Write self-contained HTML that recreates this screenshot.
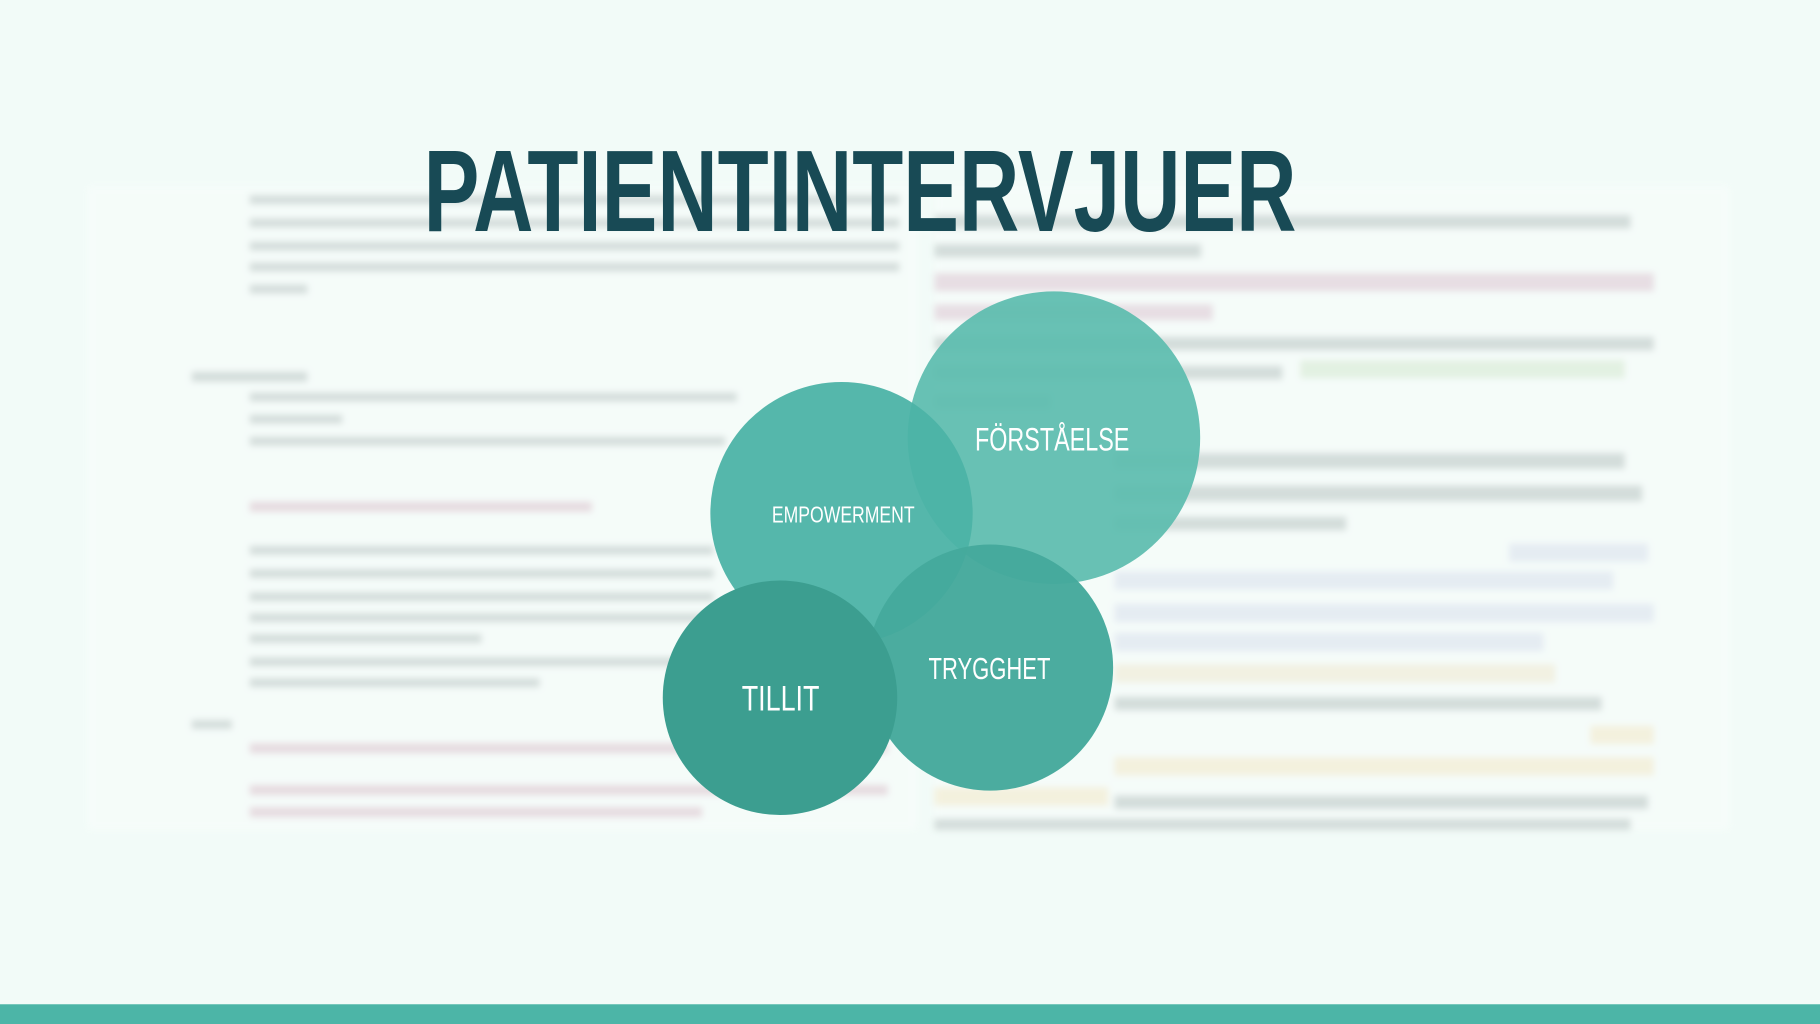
<!DOCTYPE html>
<html><head><meta charset="utf-8"><style>
html,body{margin:0;padding:0;background:#f2fbf8;}
svg{display:block}
</style></head><body>
<svg width="1820" height="1024" viewBox="0 0 1568 882" preserveAspectRatio="none" xmlns="http://www.w3.org/2000/svg">
<defs><filter id="bl" x="-10%" y="-10%" width="120%" height="120%"><feGaussianBlur stdDeviation="3"/></filter></defs>
<rect width="1568" height="882" fill="#f2fbf8"/>
<g filter="url(#bl)" opacity="0.65">
  <rect x="75" y="160" width="715" height="555" fill="#f8fdfb"/>
  <rect x="805" y="160" width="685" height="555" fill="#f8fdfb"/>
  <g fill="#c4cecc">
    <rect x="215" y="168" width="560" height="8"/><rect x="215" y="188" width="560" height="8"/>
    <rect x="215" y="208" width="560" height="8"/><rect x="215" y="226" width="560" height="8"/>
    <rect x="215" y="245" width="50" height="8"/>
    <rect x="165" y="320" width="100" height="9"/>
    <rect x="215" y="338" width="420" height="8"/><rect x="215" y="357" width="80" height="8"/>
    <rect x="215" y="376" width="410" height="8"/>
    <rect x="215" y="470" width="400" height="8"/><rect x="215" y="490" width="400" height="8"/>
    <rect x="215" y="510" width="400" height="8"/><rect x="215" y="528" width="400" height="8"/>
    <rect x="215" y="546" width="200" height="8"/><rect x="215" y="566" width="400" height="8"/>
    <rect x="215" y="584" width="250" height="8"/><rect x="165" y="620" width="35" height="8"/>
    <rect x="805" y="185" width="600" height="12"/><rect x="805" y="210" width="230" height="12"/>
    <rect x="805" y="290" width="620" height="12"/><rect x="805" y="315" width="300" height="12"/>
    <rect x="805" y="340" width="100" height="12"/>
    <rect x="960" y="390" width="440" height="14"/><rect x="960" y="418" width="455" height="14"/>
    <rect x="960" y="445" width="200" height="12"/><rect x="960" y="600" width="420" height="12"/>
    <rect x="960" y="685" width="460" height="12"/><rect x="805" y="705" width="600" height="10"/>
  </g>
  <g opacity="0.7">
    <rect x="215" y="432" width="295" height="9" fill="#d8b7c4"/>
    <rect x="805" y="235" width="620" height="16" fill="#d9bccb"/>
    <rect x="805" y="262" width="240" height="14" fill="#d9bccb"/>
    <rect x="1120" y="310" width="280" height="16" fill="#cfe6c8"/>
    <rect x="1300" y="468" width="120" height="16" fill="#d5dcec"/>
    <rect x="960" y="492" width="430" height="16" fill="#d5dcec"/>
    <rect x="960" y="520" width="465" height="16" fill="#d5dcec"/>
    <rect x="960" y="545" width="370" height="16" fill="#d5dcec"/>
    <rect x="960" y="572" width="380" height="16" fill="#f0e6c8"/>
    <rect x="1370" y="625" width="55" height="16" fill="#f5e6bf"/>
    <rect x="960" y="652" width="465" height="16" fill="#f5e6bf"/>
    <rect x="805" y="678" width="150" height="16" fill="#f5e6bf"/>
    <rect x="215" y="640" width="550" height="9" fill="#d8b7c4"/>
    <rect x="215" y="676" width="550" height="9" fill="#d8b7c4"/>
    <rect x="215" y="695" width="390" height="9" fill="#d8b7c4"/>
  </g>
</g>
<text x="365" y="199" textLength="752" lengthAdjust="spacingAndGlyphs" font-family="'Liberation Sans Narrow','Liberation Sans',sans-serif" font-weight="bold" font-size="100" fill="#184a55">PATIENTINTERVJUER</text>
<g font-family="'Liberation Sans Narrow','Liberation Sans',sans-serif" fill="#ffffff">
  <circle cx="908" cy="377" r="126" fill="#5bbcae" opacity="0.92"/>
  <circle cx="725" cy="442" r="113" fill="#4cb3a6" opacity="0.95"/>
  <circle cx="853" cy="575" r="106" fill="#45a99c" opacity="0.97"/>
  <circle cx="672" cy="601" r="101" fill="#3c9e90"/>
  <text x="840" y="388" font-size="28" textLength="133" lengthAdjust="spacingAndGlyphs">FÖRSTÅELSE</text>
  <text x="665" y="450" font-size="20" textLength="123" lengthAdjust="spacingAndGlyphs">EMPOWERMENT</text>
  <text x="800" y="585" font-size="26" textLength="105" lengthAdjust="spacingAndGlyphs">TRYGGHET</text>
  <text x="639" y="612" font-size="30" textLength="67" lengthAdjust="spacingAndGlyphs">TILLIT</text>
</g>
<rect x="0" y="865" width="1568" height="17" fill="#4cb5a7"/>
</svg>
</body></html>
